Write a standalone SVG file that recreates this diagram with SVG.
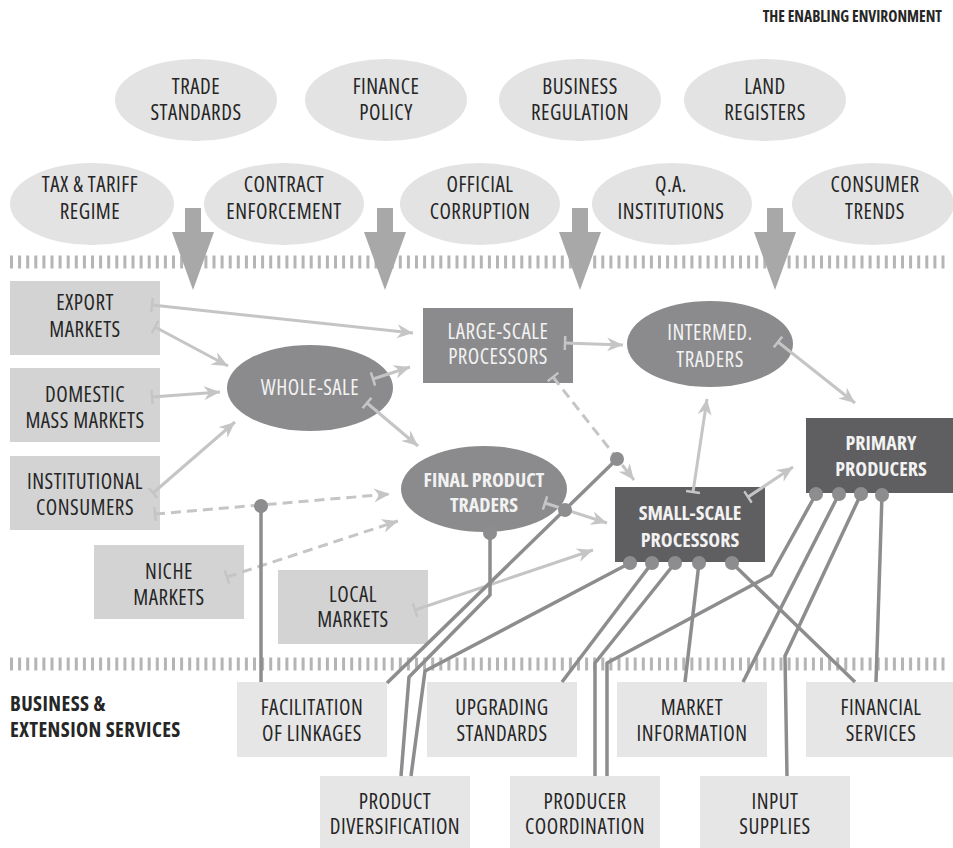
<svg xmlns="http://www.w3.org/2000/svg" width="953" height="848" viewBox="0 0 953 848">
<style>
text{font-family:"Open Sans","Noto Sans","Liberation Sans",sans-serif;font-size:21px;font-stretch:75%;letter-spacing:0.5px;text-anchor:middle;fill:#262626}
.w{fill:#f2f2f2}
.b{font-weight:bold;font-size:20px;letter-spacing:0}
.env{fill:#e3e3e3}
.mkt{fill:#d3d3d4}
.svc{fill:#e6e6e7}
.mid{fill:#8b8b8d}
.dark{fill:#5f5f61}
.ticks{stroke:#b5b5b5;stroke-width:13;stroke-dasharray:3 5.1;fill:none}
.down{fill:#a8a8a8}
.lt{stroke:#c5c5c5;stroke-width:3;fill:none;marker-start:url(#tee);marker-end:url(#arr)}
.dash{stroke-dasharray:10 6}
.sv{stroke:#8d8d8f;stroke-width:3.5;fill:none;stroke-linejoin:round}
.dot{fill:#8d8d8f}
</style>
<defs>
<marker id="arr" markerUnits="userSpaceOnUse" markerWidth="16" markerHeight="14" viewBox="0 0 16 14" refX="16" refY="7" orient="auto">
<path d="M0,0 L16,7 L0,14 L5,7 z" fill="#c5c5c5"/>
</marker>
<marker id="tee" markerUnits="userSpaceOnUse" markerWidth="4" markerHeight="14" viewBox="0 0 4 14" refX="2" refY="7" orient="auto">
<path d="M2,0 L2,14" stroke="#c5c5c5" stroke-width="2.5"/>
</marker>
</defs>
<rect width="953" height="848" fill="#ffffff"/>

<text class="b" x="942" y="22" style="text-anchor:end;font-size:15.5px">THE ENABLING ENVIRONMENT</text>
<text class="b" x="10" y="711" style="text-anchor:start;font-size:20.5px;letter-spacing:0.4px">BUSINESS &amp;</text>
<text class="b" x="10" y="737" style="text-anchor:start;font-size:20.5px;letter-spacing:0.4px">EXTENSION SERVICES</text>

<g id="bands">
<line class="ticks" x1="10" y1="262" x2="948" y2="262"/>
<line class="ticks" x1="10" y1="664" x2="948" y2="664"/>
</g>

<g id="env-trade-standards"><ellipse class="env" cx="196" cy="100" rx="81" ry="41"/><text x="196" y="94">TRADE</text><text x="196" y="120">STANDARDS</text></g>
<g id="env-finance-policy"><ellipse class="env" cx="386" cy="100" rx="81" ry="41"/><text x="386" y="94">FINANCE</text><text x="386" y="120">POLICY</text></g>
<g id="env-business-regulation"><ellipse class="env" cx="580" cy="100" rx="81" ry="41"/><text x="580" y="94">BUSINESS</text><text x="580" y="120">REGULATION</text></g>
<g id="env-land-registers"><ellipse class="env" cx="765" cy="100" rx="81" ry="41"/><text x="765" y="94">LAND</text><text x="765" y="120">REGISTERS</text></g>
<g id="env-tax"><ellipse class="env" cx="92" cy="204" rx="82" ry="41"/><text x="90" y="192">TAX &amp; TARIFF</text><text x="90" y="219">REGIME</text></g>
<g id="env-contract"><ellipse class="env" cx="284" cy="204" rx="80" ry="41"/><text x="284" y="192">CONTRACT</text><text x="284" y="219">ENFORCEMENT</text></g>
<g id="env-corruption"><ellipse class="env" cx="480" cy="204" rx="80" ry="41"/><text x="480" y="192">OFFICIAL</text><text x="480" y="219">CORRUPTION</text></g>
<g id="env-qa"><ellipse class="env" cx="672" cy="204" rx="80" ry="41"/><text x="671" y="192">Q.A.</text><text x="671" y="219">INSTITUTIONS</text></g>
<g id="env-consumer"><ellipse class="env" cx="873" cy="204" rx="81" ry="41"/><text x="875" y="192">CONSUMER</text><text x="875" y="219">TRENDS</text></g>

<g id="down-arrows">
<path class="down" d="M185,208 H201 V232 H214 L193,290 L172,232 H185 Z"/>
<path class="down" d="M377,208 H393 V232 H406 L385,290 L364,232 H377 Z"/>
<path class="down" d="M572,208 H588 V232 H601 L580,290 L559,232 H572 Z"/>
<path class="down" d="M767,208 H783 V232 H796 L775,290 L754,232 H767 Z"/>
</g>

<g id="export-markets"><rect class="mkt" x="10" y="281" width="150" height="74"/><text x="85" y="310">EXPORT</text><text x="85" y="337">MARKETS</text></g>
<g id="domestic-markets"><rect class="mkt" x="10" y="368" width="150" height="74"/><text x="85" y="402">DOMESTIC</text><text x="85" y="428">MASS MARKETS</text></g>
<g id="institutional-consumers"><rect class="mkt" x="10" y="456" width="150" height="74"/><text x="85" y="489">INSTITUTIONAL</text><text x="85" y="515">CONSUMERS</text></g>
<g id="niche-markets"><rect class="mkt" x="94" y="545" width="150" height="74"/><text x="169" y="579">NICHE</text><text x="169" y="605">MARKETS</text></g>
<g id="local-markets"><rect class="mkt" x="278" y="570" width="150" height="74"/><text x="353" y="602">LOCAL</text><text x="353" y="627">MARKETS</text></g>

<g id="large-scale-processors"><rect class="mid" x="423" y="308" width="150" height="75"/><text class="w" x="498" y="339">LARGE-SCALE</text><text class="w" x="498" y="364">PROCESSORS</text></g>
<g id="whole-sale"><ellipse class="mid" cx="310" cy="388" rx="83" ry="43"/><text class="w" x="310" y="395">WHOLE-SALE</text></g>
<g id="intermed-traders"><ellipse class="mid" cx="710" cy="344" rx="83" ry="43"/><text class="w" x="710" y="340">INTERMED.</text><text class="w" x="710" y="367">TRADERS</text></g>
<g id="final-product-traders"><ellipse class="mid" cx="484" cy="489" rx="83" ry="43"/><text class="w b" x="484" y="487">FINAL PRODUCT</text><text class="w b" x="484" y="512">TRADERS</text></g>
<g id="small-scale-processors"><rect class="dark" x="615" y="487" width="150" height="75"/><text class="w b" x="690" y="520">SMALL-SCALE</text><text class="w b" x="690" y="547">PROCESSORS</text></g>
<g id="primary-producers"><rect class="dark" x="806" y="418" width="150" height="75"/><text class="w b" x="881" y="450">PRIMARY</text><text class="w b" x="881" y="476">PRODUCERS</text></g>

<g id="facilitation"><rect class="svc" x="237" y="682" width="150" height="75"/><text x="312" y="715">FACILITATION</text><text x="312" y="741">OF LINKAGES</text></g>
<g id="upgrading"><rect class="svc" x="427" y="682" width="150" height="75"/><text x="502" y="715">UPGRADING</text><text x="502" y="741">STANDARDS</text></g>
<g id="market-information"><rect class="svc" x="617" y="682" width="150" height="75"/><text x="692" y="715">MARKET</text><text x="692" y="741">INFORMATION</text></g>
<g id="financial-services"><rect class="svc" x="806" y="682" width="150" height="75"/><text x="881" y="715">FINANCIAL</text><text x="881" y="741">SERVICES</text></g>
<g id="product-diversification"><rect class="svc" x="320" y="776" width="150" height="75"/><text x="395" y="809">PRODUCT</text><text x="395" y="834">DIVERSIFICATION</text></g>
<g id="producer-coordination"><rect class="svc" x="510" y="776" width="150" height="75"/><text x="585" y="809">PRODUCER</text><text x="585" y="834">COORDINATION</text></g>
<g id="input-supplies"><rect class="svc" x="700" y="776" width="150" height="75"/><text x="775" y="809">INPUT</text><text x="775" y="834">SUPPLIES</text></g>

<g id="connectors">
<path class="lt" d="M152,305 L413,333"/>
<path class="lt" d="M155,327 L228,366"/>
<path class="lt" d="M152,397 L220,392"/>
<path class="lt" d="M153,493 L235,422"/>
<path class="lt" d="M373,379 L410,367"/>
<path class="lt" d="M367,403 L418,446"/>
<path class="lt" d="M565,343 L623,345"/>
<path class="lt" d="M693,492 L707,399"/>
<path class="lt" d="M778,342 L855,403"/>
<path class="lt" d="M748,497 L793,467"/>
<path class="lt" d="M545,503 L607,523"/>
<path class="lt" d="M415,610 L593,550"/>
<path class="lt dash" d="M553,377 L634,480"/>
<path class="lt dash" d="M155,514 L390,494"/>
<path class="lt dash" d="M227,577 L398,521"/>

<path class="sv" d="M261,682 L261,506"/>
<path class="sv" d="M387,683 L617,459"/>
<path class="sv" d="M401,776 L409,677 L490,595 L490,533"/>
<path class="sv" d="M411,776 L425,671 L630,563"/>
<path class="sv" d="M562,682 L652,563"/>
<path class="sv" d="M595,776 L595,663 L675,563"/>
<path class="sv" d="M607,776 L607,663 L771,575 L816,494"/>
<path class="sv" d="M685,682 L699,563"/>
<path class="sv" d="M743,682 L839,494"/>
<path class="sv" d="M787,776 L785,656 L861,494"/>
<path class="sv" d="M855,682 L732,563"/>
<path class="sv" d="M876,682 L882,495"/>

<circle class="dot" cx="261" cy="506" r="7"/>
<circle class="dot" cx="565" cy="510" r="7"/>
<circle class="dot" cx="617" cy="459" r="7"/>
<circle class="dot" cx="490" cy="533" r="7"/>
<circle class="dot" cx="630" cy="563" r="7"/>
<circle class="dot" cx="652" cy="563" r="7"/>
<circle class="dot" cx="675" cy="563" r="7"/>
<circle class="dot" cx="699" cy="563" r="7"/>
<circle class="dot" cx="732" cy="563" r="7"/>
<circle class="dot" cx="816" cy="494" r="7"/>
<circle class="dot" cx="839" cy="494" r="7"/>
<circle class="dot" cx="861" cy="494" r="7"/>
<circle class="dot" cx="882" cy="495" r="7"/>
</g>
</svg>
